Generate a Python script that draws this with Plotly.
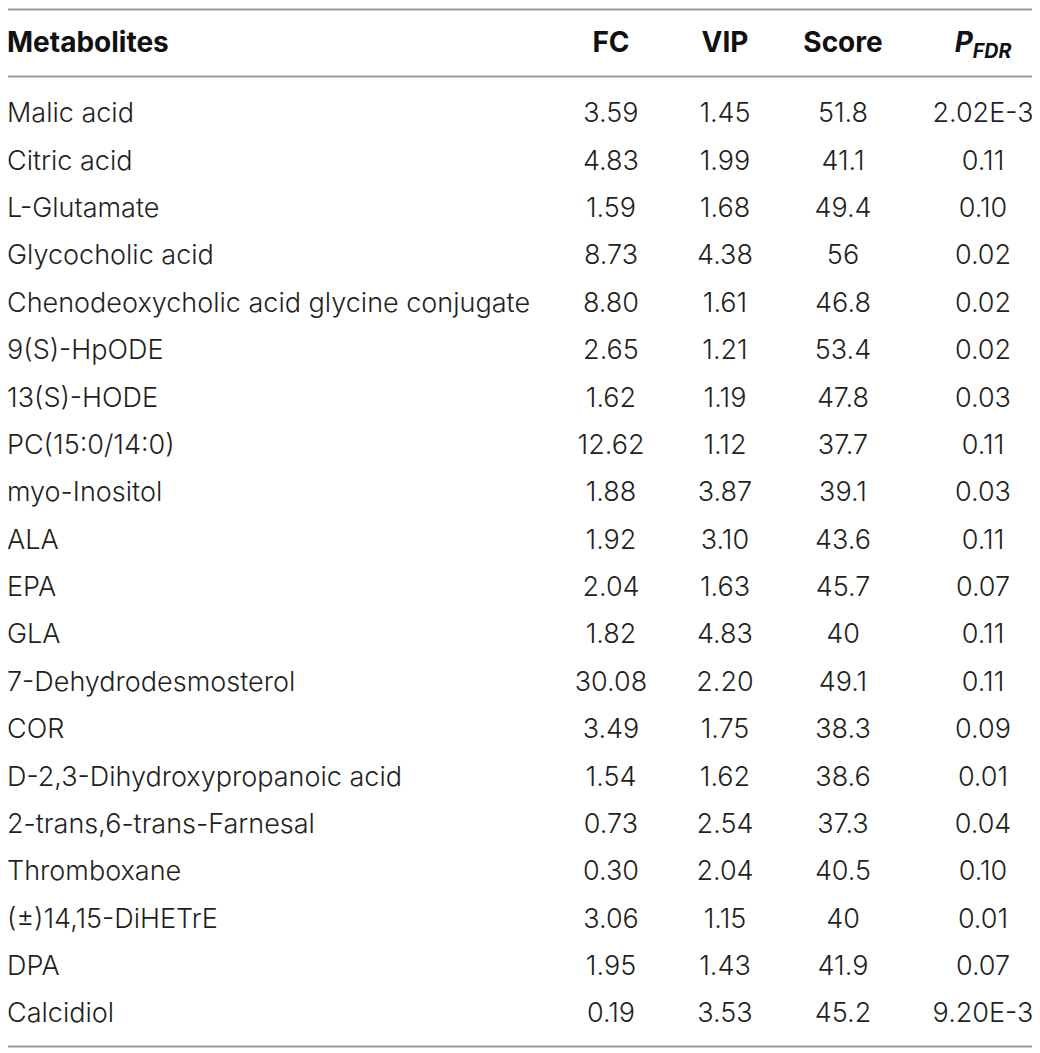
import plotly.graph_objects as go

# table content
metabolites = [
    "Malic acid", "Citric acid", "L-Glutamate", "Glycocholic acid",
    "Chenodeoxycholic acid glycine conjugate", "9(S)-HpODE", "13(S)-HODE",
    "PC(15:0/14:0)", "myo-Inositol", "ALA", "EPA", "GLA",
    "7-Dehydrodesmosterol", "COR", "D-2,3-Dihydroxypropanoic acid",
    "2-trans,6-trans-Farnesal", "Thromboxane", "(±)14,15-DiHETrE", "DPA",
    "Calcidiol",
]
fc = ["3.59", "4.83", "1.59", "8.73", "8.80", "2.65", "1.62", "12.62", "1.88",
      "1.92", "2.04", "1.82", "30.08", "3.49", "1.54", "0.73", "0.30", "3.06",
      "1.95", "0.19"]
vip = ["1.45", "1.99", "1.68", "4.38", "1.61", "1.21", "1.19", "1.12", "3.87",
       "3.10", "1.63", "4.83", "2.20", "1.75", "1.62", "2.54", "2.04", "1.15",
       "1.43", "3.53"]
score = ["51.8", "41.1", "49.4", "56", "46.8", "53.4", "47.8", "37.7", "39.1",
         "43.6", "45.7", "40", "49.1", "38.3", "38.6", "37.3", "40.5", "40",
         "41.9", "45.2"]
p_fdr = ["2.02E-3", "0.11", "0.10", "0.02", "0.02", "0.02", "0.03", "0.11",
         "0.03", "0.11", "0.07", "0.11", "0.11", "0.09", "0.01", "0.04", "0.10",
         "0.01", "0.07", "9.20E-3"]
headers = ["<b>Metabolites</b>", "<b>FC</b>", "<b>VIP</b>", "<b>Score</b>",
           "<b><i>P</i></b><sub><b><i>FDR</i></b></sub>"]

FONT = "Inter"
SIZE = 27
HSIZE = 28
TXT = "#231f20"

# page is offset 8px by the body margin, so axes are shifted to compensate
OFF = 8
ROW0 = 115.5   # page y of first body row (text anchor)
ROWH = 47.38   # row pitch in px

col_x = [7, 611, 725, 843, 983]
rows = list(range(len(metabolites)))


def row_of(py):
    return (py - ROW0) / ROWH


header_y = row_of(45)

fig = go.Figure()

# header row
fig.add_trace(go.Scatter(
    x=[col_x[0]], y=[header_y], text=[headers[0]], mode="text",
    textposition="middle right",
    textfont=dict(family=FONT, size=HSIZE, color="#111111"),
    hoverinfo="skip"))
fig.add_trace(go.Scatter(
    x=col_x[1:], y=[header_y] * 4, text=headers[1:], mode="text",
    textposition="middle center",
    textfont=dict(family=FONT, size=HSIZE, color="#111111"),
    hoverinfo="skip"))

# body
fig.add_trace(go.Scatter(
    x=[col_x[0]] * len(rows), y=rows, text=metabolites, mode="text",
    textposition="middle right",
    textfont=dict(family=FONT, size=SIZE, color=TXT, weight=300),
    hoverinfo="skip"))
for cx, vals in zip(col_x[1:], [fc, vip, score, p_fdr]):
    fig.add_trace(go.Scatter(
        x=[cx] * len(rows), y=rows, text=vals, mode="text",
        textposition="middle center",
        textfont=dict(family=FONT, size=SIZE, color=TXT, weight=300),
        hoverinfo="skip"))

# rules
for py in [9.5, 76.5, 1046.5]:
    fig.add_shape(type="line", xref="x", yref="y", x0=5, x1=1035,
                  y0=row_of(py), y1=row_of(py),
                  line=dict(color="#9a9a9a", width=2))

fig.update_layout(
    width=1040, height=1053,
    margin=dict(l=0, r=0, t=0, b=0),
    paper_bgcolor="white", plot_bgcolor="white",
    showlegend=False,
    xaxis=dict(range=[OFF, 1040 + OFF], visible=False, fixedrange=True),
    yaxis=dict(range=[row_of(1053 + OFF), row_of(OFF)], visible=False,
               fixedrange=True),
)

fig.write_html("out.html")
